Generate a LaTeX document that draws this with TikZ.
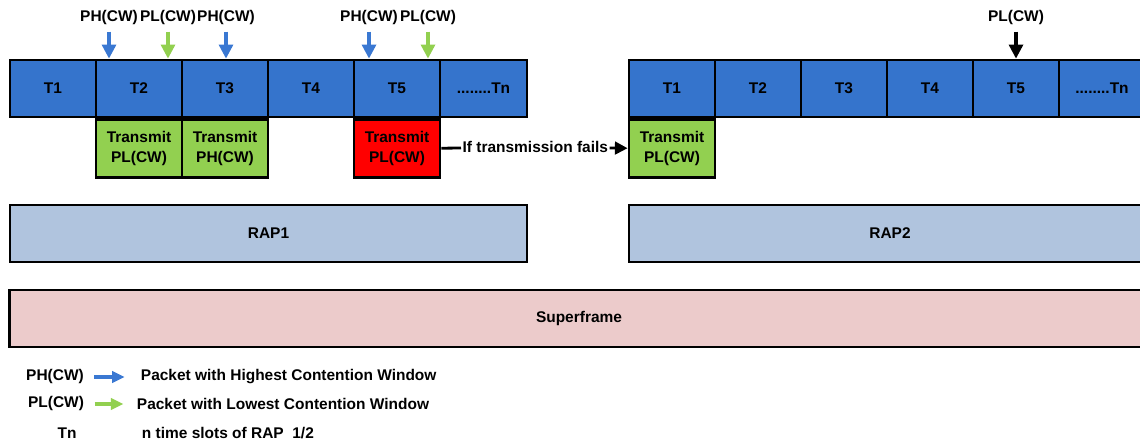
\documentclass[tikz,border=0pt]{standalone}
\usepackage{fontspec}
\setmainfont{Liberation Sans}
\usetikzlibrary{arrows.meta,positioning}
\definecolor{slotblue}{RGB}{53,116,204}
\definecolor{txgreen}{RGB}{146,208,80}
\definecolor{txred}{RGB}{255,0,0}
\definecolor{rapblue}{RGB}{176,196,222}
\definecolor{sfpink}{RGB}{236,203,203}
\definecolor{arrblue}{RGB}{58,120,210}
\newcommand{\lblfont}{\fontsize{11pt}{14pt}\selectfont\bfseries}
\tikzset{
  slot/.style={draw=black, line width=2pt, fill=slotblue, inner sep=0pt,
    minimum width=2.15cm, minimum height=1.425cm, font=\lblfont},
  tx/.style={slot, fill=txgreen, align=center, minimum height=1.45cm},
  band/.style={draw=black, line width=2pt, inner sep=0pt,
    minimum height=1.425cm, font=\lblfont},
  lbl/.style={font=\lblfont},
  cw/.style={-{Triangle[width=10pt,length=10pt]}, line width=2.2pt},
  key/.style={-{Triangle[width=8pt,length=9pt]}, line width=2.2pt},
}

\begin{document}
\begin{tikzpicture}[x=0.025cm,y=-0.025cm]
\useasboundingbox (0,0) rectangle (1140,445);
\clip (0,0) rectangle (1140,445);
% time slots of RAP1 and RAP2
\foreach \n/\x in {1/53,2/139,3/225,4/311,5/397}
  \node[slot] (a\n) at (\x,88.5) {T\n};
\node[slot, minimum width=2.175cm] (an) at (483.5,88.5) {........Tn};
\foreach \n/\x in {1/672,2/758,3/844,4/930,5/1016}
  \node[slot] (b\n) at (\x,88.5) {T\n};
\node[slot] (bn) at (1102,88.5) {........Tn};
% transmissions
\node[tx, below=0pt of a2] (ta2) {Transmit\\PL(CW)};
\node[tx, below=0pt of a3] (ta3) {Transmit\\PH(CW)};
\node[tx, fill=txred, below=0pt of a5] (ta5) {Transmit\\PL(CW)};
\node[tx, below=0pt of b1] (tb1) {Transmit\\PL(CW)};
\node[lbl, anchor=west, inner sep=1pt] (fail) at (461,147) {If transmission fails};
\draw[line width=2pt] (ta5) -- (fail);
\draw[-{Triangle[width=9pt,length=9pt]}, line width=2pt] (fail) -- (tb1);
% packets arriving
\node[lbl] (p1) at (109,18) {PH(CW)};
\node[lbl] (p2) at (168,18) {PL(CW)};
\node[lbl] (p3) at (226,18) {PH(CW)};
\node[lbl] (p4) at (369,18) {PH(CW)};
\node[lbl] (p5) at (428,18) {PL(CW)};
\node[lbl] (p6) at (1016,18) {PL(CW)};
\draw[cw, arrblue] ([yshift=-1pt]p1.south) -- (p1.south |- a2.north);
\draw[cw, txgreen] ([yshift=-1pt]p2.south) -- (p2.south |- a2.north);
\draw[cw, arrblue] ([yshift=-1pt]p3.south) -- (p3.south |- a3.north);
\draw[cw, arrblue] ([yshift=-1pt]p4.south) -- (p4.south |- a5.north);
\draw[cw, txgreen] ([yshift=-1pt]p5.south) -- (p5.south |- a5.north);
\draw[cw, black] ([yshift=-1pt]p6.south) -- (p6.south |- b5.north);
% access periods
\node[band, fill=rapblue, minimum width=12.925cm] (rap1) at (268.5,233.5) {RAP1};
\node[band, fill=rapblue, minimum width=13.05cm] (rap2) at (890,233.5) {RAP2};
\node[band, fill=sfpink, minimum width=28.45cm] (sf) at (579,318.5) {Superframe};
% legend
\node[lbl] (kph) at (55,377) {PH(CW)};
\node[lbl, anchor=west] (dph) at (136,377) {Packet with Highest Contention Window};
\node[lbl] (kpl) at (56,404) {PL(CW)};
\node[lbl, anchor=west] (dpl) at (132,404) {Packet with Lowest Contention Window};
\node[lbl] (ktn) at (67,433) {Tn};
\node[lbl, anchor=west] (dtn) at (137,433) {n time slots of RAP~~1/2};
\draw[key, arrblue, shorten <=4pt, shorten >=8pt] (kph) -- (dph);
\draw[key, txgreen, shorten <=4pt, shorten >=6pt] (kpl) -- (dpl);
\end{tikzpicture}
\end{document}
